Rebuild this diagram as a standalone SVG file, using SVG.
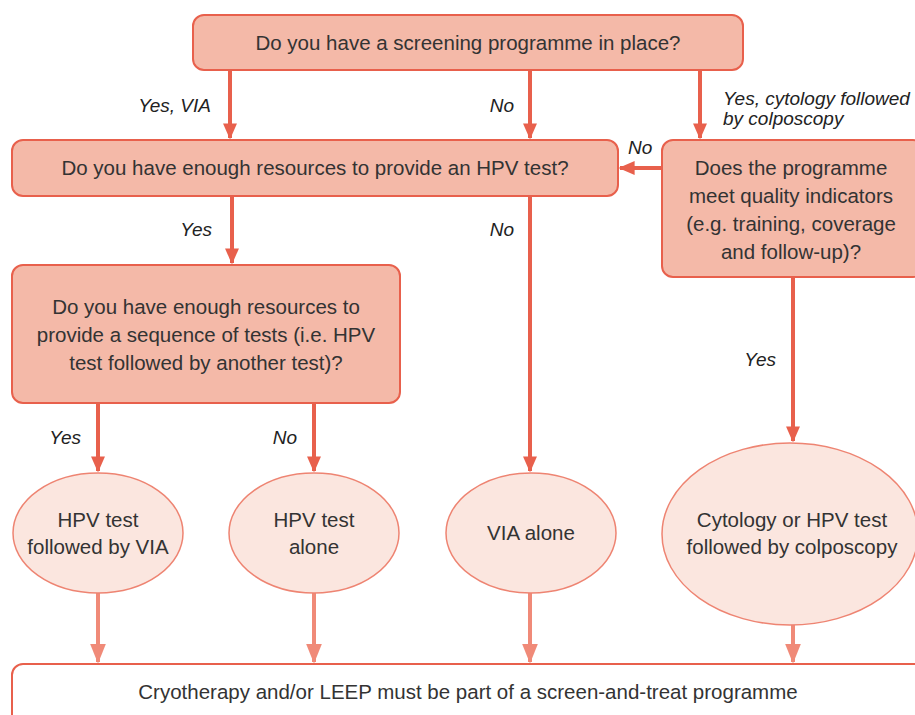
<svg xmlns="http://www.w3.org/2000/svg" width="915" height="715" viewBox="0 0 915 715">
<style>
.dec{fill:#f4b9a8;stroke:#e8604c;stroke-width:2}
.out{fill:#fbe6df;stroke:#ee8472;stroke-width:1.5}
.fin{fill:#ffffff;stroke:#e8604c;stroke-width:2}
.t{font-family:"Liberation Sans",Arial,sans-serif;font-size:20.5px;fill:#333333;text-anchor:middle}
.l{font-family:"Liberation Sans",Arial,sans-serif;font-size:19px;font-style:italic;fill:#222222}
.c{stroke:#e8604c;stroke-width:4;fill:none}
.c2{stroke:#f08a78;stroke-width:4;fill:none}
</style>
<defs>
<marker id="ah" markerWidth="4" markerHeight="4.6" refX="4.2" refY="2" orient="auto" markerUnits="strokeWidth" viewBox="0 0 4.6 4">
<path d="M0,0 L4.6,2 L0,4 z" fill="#e8604c"/>
</marker>
<marker id="ah2" markerWidth="5" markerHeight="4.6" refX="4.6" refY="2" orient="auto" markerUnits="strokeWidth" viewBox="0 0 5 4">
<path d="M0,0 L5,2 L0,4 z" fill="#f08a78"/>
</marker>
</defs>
<g id="connectors">
<path class="c" d="M230,70 V138" marker-end="url(#ah)"/>
<path class="c" d="M530,70 V138" marker-end="url(#ah)"/>
<path class="c" d="M700,70 V138" marker-end="url(#ah)"/>
<path class="c" d="M662,168 H620" marker-end="url(#ah)"/>
<path class="c" d="M232,196 V263" marker-end="url(#ah)"/>
<path class="c" d="M530,196 V471" marker-end="url(#ah)"/>
<path class="c" d="M793,277 V441" marker-end="url(#ah)"/>
<path class="c" d="M98,403 V471" marker-end="url(#ah)"/>
<path class="c" d="M314,403 V471" marker-end="url(#ah)"/>
<path class="c2" d="M98,593 V662" marker-end="url(#ah2)"/>
<path class="c2" d="M314,593 V662" marker-end="url(#ah2)"/>
<path class="c2" d="M530,593 V662" marker-end="url(#ah2)"/>
<path class="c2" d="M793,625 V662" marker-end="url(#ah2)"/>
<text class="l" x="211" y="112" text-anchor="end">Yes, VIA</text>
<text class="l" x="514" y="112" text-anchor="end">No</text>
<text class="l" x="723" y="105">Yes, cytology followed</text>
<text class="l" x="723" y="125">by colposcopy</text>
<text class="l" x="628" y="154">No</text>
<text class="l" x="212" y="236" text-anchor="end">Yes</text>
<text class="l" x="514" y="236" text-anchor="end">No</text>
<text class="l" x="776" y="366" text-anchor="end">Yes</text>
<text class="l" x="81" y="444" text-anchor="end">Yes</text>
<text class="l" x="297" y="444" text-anchor="end">No</text>
</g>
<g id="q1">
<rect class="dec" x="193" y="15" width="550" height="55" rx="11"/>
<text class="t" x="468" y="50">Do you have a screening programme in place?</text>
</g>
<g id="q2">
<rect class="dec" x="12" y="140" width="606" height="56" rx="11"/>
<text class="t" x="315" y="175">Do you have enough resources to provide an HPV test?</text>
</g>
<g id="q3">
<rect class="dec" x="662" y="140" width="262" height="137" rx="11"/>
<text class="t" x="791" y="175">Does the programme</text>
<text class="t" x="791" y="203">meet quality indicators</text>
<text class="t" x="791" y="231">(e.g. training, coverage</text>
<text class="t" x="791" y="259">and follow-up)?</text>
</g>
<g id="q4">
<rect class="dec" x="12" y="265" width="388" height="138" rx="11"/>
<text class="t" x="206" y="314">Do you have enough resources to</text>
<text class="t" x="206" y="342">provide a sequence of tests (i.e. HPV</text>
<text class="t" x="206" y="370">test followed by another test)?</text>
</g>
<g id="o1">
<ellipse class="out" cx="98" cy="533" rx="85" ry="60"/>
<text class="t" x="98" y="527">HPV test</text>
<text class="t" x="98" y="554">followed by VIA</text>
</g>
<g id="o2">
<ellipse class="out" cx="314" cy="533" rx="85" ry="60"/>
<text class="t" x="314" y="527">HPV test</text>
<text class="t" x="314" y="554">alone</text>
</g>
<g id="o3">
<ellipse class="out" cx="531" cy="533" rx="85" ry="60"/>
<text class="t" x="531" y="540">VIA alone</text>
</g>
<g id="o4">
<ellipse class="out" cx="790" cy="534" rx="128" ry="91"/>
<text class="t" x="792" y="527">Cytology or HPV test</text>
<text class="t" x="792" y="554">followed by colposcopy</text>
</g>
<g id="final">
<rect class="fin" x="12" y="664" width="920" height="70" rx="11"/>
<text class="t" x="468" y="699">Cryotherapy and/or LEEP must be part of a screen-and-treat programme</text>
</g>
</svg>
